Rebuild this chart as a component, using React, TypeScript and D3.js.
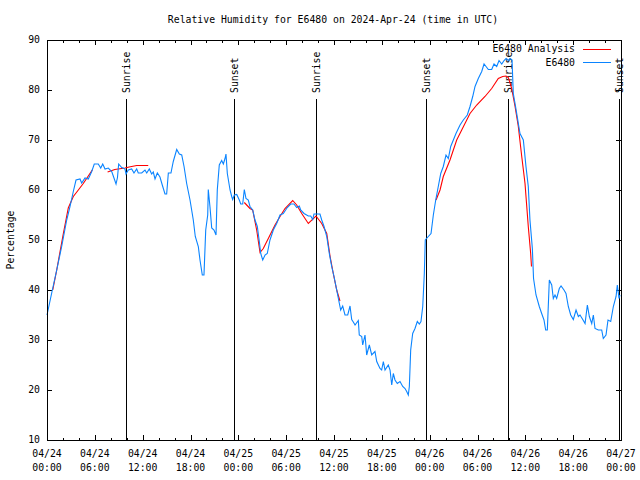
import React from "react";
import * as d3 from "d3";

// ---- data (hours since 2024-04-24 00:00 UTC) ----
const obsHours = [
  0.0, 0.59, 1.22, 1.84, 2.47, 2.89, 3.3, 3.64, 4.14, 4.35, 4.77, 5.18, 5.61, 5.93, 6.43, 6.74, 6.99, 7.28, 7.69, 8.12,
  8.4, 8.66, 8.84, 8.99, 9.37, 9.78, 9.91, 10.2, 10.62, 10.91, 11.25, 11.45, 11.88, 12.29, 12.51, 12.83, 13.13, 13.33,
  13.55, 13.84, 14.17, 14.46, 14.8, 15.01, 15.22, 15.55, 15.84, 16.27, 16.6, 16.9, 17.19, 17.52, 17.94, 18.35, 18.6,
  18.98, 19.19, 19.48, 19.69, 19.91, 20.16, 20.23, 20.45, 20.66, 20.95, 21.2, 21.36, 21.61, 21.91, 22.12, 22.33, 22.45,
  22.62, 22.96, 23.17, 23.29, 23.5, 23.8, 24.12, 24.3, 24.55, 24.75, 24.96, 25.25, 25.46, 25.8, 26.09, 26.38, 26.63,
  26.81, 27.06, 27.35, 27.63, 27.97, 28.39, 28.81, 29.23, 29.64, 30.14, 30.57, 30.98, 31.32, 31.65, 31.82, 32.24,
  32.78, 33.08, 33.33, 33.49, 33.83, 34.24, 34.46, 34.75, 35.09, 35.41, 35.71, 36.0, 36.34, 36.67, 36.84, 37.09,
  37.38, 37.72, 38.01, 38.22, 38.42, 38.64, 39.05, 39.17, 39.48, 39.6, 39.89, 40.1, 40.43, 40.73, 41.14, 41.36, 41.77,
  41.98, 42.19, 42.4, 42.81, 43.03, 43.24, 43.44, 43.65, 43.94, 44.28, 44.62, 44.91, 45.12, 45.32, 45.45, 45.62,
  45.87, 46.16, 46.45, 46.7, 46.91, 47.13, 47.33, 47.45, 47.83, 48.17, 48.46, 48.76, 49.08, 49.39, 49.71, 50.05,
  50.34, 50.64, 50.97, 51.3, 51.81, 52.22, 52.72, 53.06, 53.4, 53.69, 54.1, 54.53, 54.82, 55.07, 55.36, 55.78, 56.07,
  56.41, 56.7, 57.04, 57.33, 57.58, 57.87, 58.08, 58.33, 58.49, 58.71, 58.92, 59.33, 59.75, 60.08, 60.37, 60.58,
  60.88, 61.03, 61.34, 61.75, 62.05, 62.34, 62.55, 62.76, 63.01, 63.31, 63.51, 63.72, 63.93, 64.26, 64.48, 64.85,
  65.1, 65.39, 65.69, 66.02, 66.36, 66.65, 66.86, 67.2, 67.49, 67.78, 68.03, 68.33, 68.53, 68.74, 69.15, 69.58,
  69.78, 70.12, 70.37, 70.71, 71.04, 71.38, 71.54, 71.75, 71.87,
];
const obsValues = [
  35, 39.4, 44, 48.7, 54, 56.7, 59.7, 62, 62.2, 61.4, 62.4, 62.2, 63.7, 65.2, 65.2, 64.4, 65.2, 64.2, 64.4, 63.7,
  62.4, 61.2, 62.5, 65.2, 64.5, 64.2, 63.2, 64, 64.2, 63.4, 64.2, 63.4, 63.4, 64, 63.4, 64.2, 63.2, 63.6,
  62.2, 63.4, 62.6, 61, 59.2, 59.2, 63.4, 63.4, 65.7, 68.1, 67.2, 67, 64.7, 61.3, 58, 54, 50.7,
  48.7, 46, 43, 43, 52, 55, 60.1, 56.5, 52.4, 52, 51, 60, 65, 65.9, 65.2, 66.3, 67.2,
  63.3, 60, 58.7, 58.1, 59, 59.1, 58, 57.2, 57.2, 60.1, 58.3, 58, 56.7, 56, 54, 52.7, 49.7,
  47.3, 46, 47, 47.3, 50, 52, 53.3, 55, 55.3, 56.5, 57.2, 57.2, 56.5, 56.8, 56, 55.3,
  54.8, 54.8, 54.1, 55.2, 55.2, 55.2, 54, 52.7, 50.7, 47.3, 44.7, 42.7, 40, 37.3, 36, 36.8,
  35, 35, 36.8, 34.1, 33.6, 33, 33.9, 31, 30.7, 29, 31, 27, 29, 27, 27.7, 25.7, 24.3,
  24, 25.7, 24, 25, 24, 21, 23.3, 22, 21.3, 21.7, 20.7, 20.3, 19.7, 19, 20.7, 28,
  31.3, 32.3, 33.7, 33.2, 33.7, 36.7, 43.3, 50, 50.7, 51.3, 55, 58, 60.7, 63.3, 64.7, 67,
  66.3, 68.7, 70, 71.3, 73, 74, 75, 76.7, 78.7, 80.7, 82.3, 83.7, 85.2, 84.7, 84.1, 84.1, 85.2,
  84.7, 85.9, 85.2, 85.9, 86.3, 85.9, 86.3, 86, 79.3, 77.3, 75.3, 71.3, 70, 64.7, 60.7, 54,
  48.3, 42.3, 39, 36.7, 35.3, 34, 32, 32, 42, 41, 38.3, 39, 38.3, 40.3, 40.8, 40,
  39.3, 36.7, 35, 34.1, 36, 34.7, 35, 34.1, 33.3, 37, 34.7, 33.3, 35, 32.3, 32, 32,
  30.3, 31, 34, 33.7, 36.7, 38.7, 41, 38.3, 39,
];

// analysis series; null marks a gap
const anaHours = [
  0.72, 1.22, 2.05, 2.67, 3.3, 3.93, 4.55, 5.18, 5.68, 6.0,
  7.6, 8.5, 9.8, 10.3, 11.25, 12.7, 13.0,
  24.75, 25.46, 25.8, 26.3, 26.72, 27.13, 27.76, 28.6, 29.23, 29.85, 30.82, 31.32, 31.95, 32.78, 33.74, 34.46,
  35.09, 35.5, 35.91, 36.34, 36.75, 37.0,
  48.8, 49.3, 49.71, 50.55, 51.39, 52.02, 53.06, 53.9, 54.94, 55.78, 56.61, 57.16, 57.58, 57.87, 58.29, 58.71,
  59.12, 59.55, 59.96, 60.37, 60.67, 60.77,
];
const anaValues: (number | null)[] = [
  40, 44, 51.3, 56.4, 58.7, 60, 61.3, 62.8, 64.0, null,
  63.6, 64.1, 64.4, 64.6, 64.9, 64.9, null,
  57.5, 56.3, 56, 52, 47.5, 48.3, 50.3, 53, 54.7, 56.3, 57.9, 57, 55.3, 53.3, 54.8, 53.3,
  51.3, 46.8, 43.3, 40, 37.8, null,
  58, 60, 62.7, 66, 70, 72, 75.3, 77, 78.7, 80.3, 82.3, 82.7, 82.8, 82.5, 80.3, 76.7,
  72.7, 66.7, 61.3, 52.7, 47.3, 44.7,
];

const sunEvents = ["Sunrise", "Sunset", "Sunrise", "Sunset", "Sunrise", "Sunset"];
const sunHours = [9.87, 23.5, 33.78, 47.58, 57.87, 71.75];

const xTickDates = ["04/24", "04/24", "04/24", "04/24", "04/25", "04/25", "04/25", "04/25", "04/26", "04/26", "04/26", "04/26", "04/27"];
const xTickTimes = ["00:00", "06:00", "12:00", "18:00", "00:00", "06:00", "12:00", "18:00", "00:00", "06:00", "12:00", "18:00", "00:00"];
const yTicks = [10, 20, 30, 40, 50, 60, 70, 80, 90];

const title = "Relative Humidity for E6480 on 2024-Apr-24 (time in UTC)";
const yLabel = "Percentage";
const legendNames = ["E6480 Analysis", "E6480"];

const FONT = "'DejaVu Sans Mono', monospace";
const RED = "#ff0000";
const BLUE = "#0a84ff";

export default function App() {
  const W = 640, H = 480;
  const L = 47, R = 621, T = 40, B = 440;
  const t0 = Date.UTC(2024, 3, 24, 0, 0);
  const toDate = (h: number) => new Date(t0 + h * 3600000);
  const x = d3.scaleUtc().domain([toDate(0), toDate(72)]).range([L, R]);
  const y = d3.scaleLinear().domain([10, 90]).range([B, T]);

  const obs = obsHours.map((h, i) => ({ d: toDate(h), v: obsValues[i] as number | null }));
  const ana = anaHours.map((h, i) => ({ d: toDate(h), v: anaValues[i] }));
  const line = d3
    .line<{ d: Date; v: number | null }>()
    .defined((p) => p.v !== null)
    .x((p) => x(p.d))
    .y((p) => y(p.v as number));

  const minor = d3.range(0, 73, 2);
  const fs = 9.8;

  return (
    <svg width={W} height={H} style={{ position: "absolute", left: 0, top: 0, background: "#fff" }} fontFamily={FONT} fontSize={fs}>
      <rect x={0} y={0} width={W} height={H} fill="#fff" />
      <text x={333} y={23} textAnchor="middle">{title}</text>

      {/* ticks */}
      <g stroke="#000" strokeWidth={1} shapeRendering="crispEdges">
        {minor.map((h) => {
          const len = h % 6 === 0 ? 5 : 2.5;
          const xx = Math.round(x(toDate(h))) + 0.5;
          return (
            <g key={h}>
              <line x1={xx} x2={xx} y1={B} y2={B - len} />
              <line x1={xx} x2={xx} y1={T} y2={T + len} />
            </g>
          );
        })}
        {yTicks.map((v) => {
          const yy = Math.round(y(v)) + 0.5;
          return (
            <g key={v}>
              <line x1={L} x2={L + 5} y1={yy} y2={yy} />
              <line x1={R} x2={R - 5} y1={yy} y2={yy} />
            </g>
          );
        })}
      </g>

      {/* y tick labels */}
      {yTicks.map((v) => (
        <text key={v} x={40} y={y(v)} dy="0.35em" textAnchor="end">{v}</text>
      ))}
      {/* x tick labels */}
      {xTickDates.map((d, i) => (
        <g key={i}>
          <text x={x(toDate(i * 6))} y={457} textAnchor="middle">{d}</text>
          <text x={x(toDate(i * 6))} y={471} textAnchor="middle">{xTickTimes[i]}</text>
        </g>
      ))}
      <text transform={`translate(14,240) rotate(-90)`} textAnchor="middle">{yLabel}</text>

      {/* sunrise / sunset */}
      {sunHours.map((h, i) => {
        const xx = Math.round(x(toDate(h))) + 0.5;
        return (
          <g key={i}>
            <line x1={xx} x2={xx} y1={99} y2={B} stroke="#000" shapeRendering="crispEdges" />
            <text transform={`translate(${xx},93) rotate(-90)`} dy="0.35em" textAnchor="start">{sunEvents[i]}</text>
          </g>
        );
      })}

      {/* series */}
      <path d={line(ana) || ""} fill="none" stroke={RED} strokeWidth={1.1} />
      <path d={line(obs) || ""} fill="none" stroke={BLUE} strokeWidth={1.1} />

      {/* legend */}
      <text x={575} y={49} dy="0.35em" textAnchor="end">{legendNames[0]}</text>
      <line x1={583} x2={611} y1={49.5} y2={49.5} stroke={RED} shapeRendering="crispEdges" />
      <text x={575} y={63} dy="0.35em" textAnchor="end">{legendNames[1]}</text>
      <line x1={583} x2={611} y1={62.5} y2={62.5} stroke={BLUE} shapeRendering="crispEdges" />

      {/* border */}
      <rect x={L + 0.5} y={T + 0.5} width={R - L} height={B - T} fill="none" stroke="#000" shapeRendering="crispEdges" />
    </svg>
  );
}
